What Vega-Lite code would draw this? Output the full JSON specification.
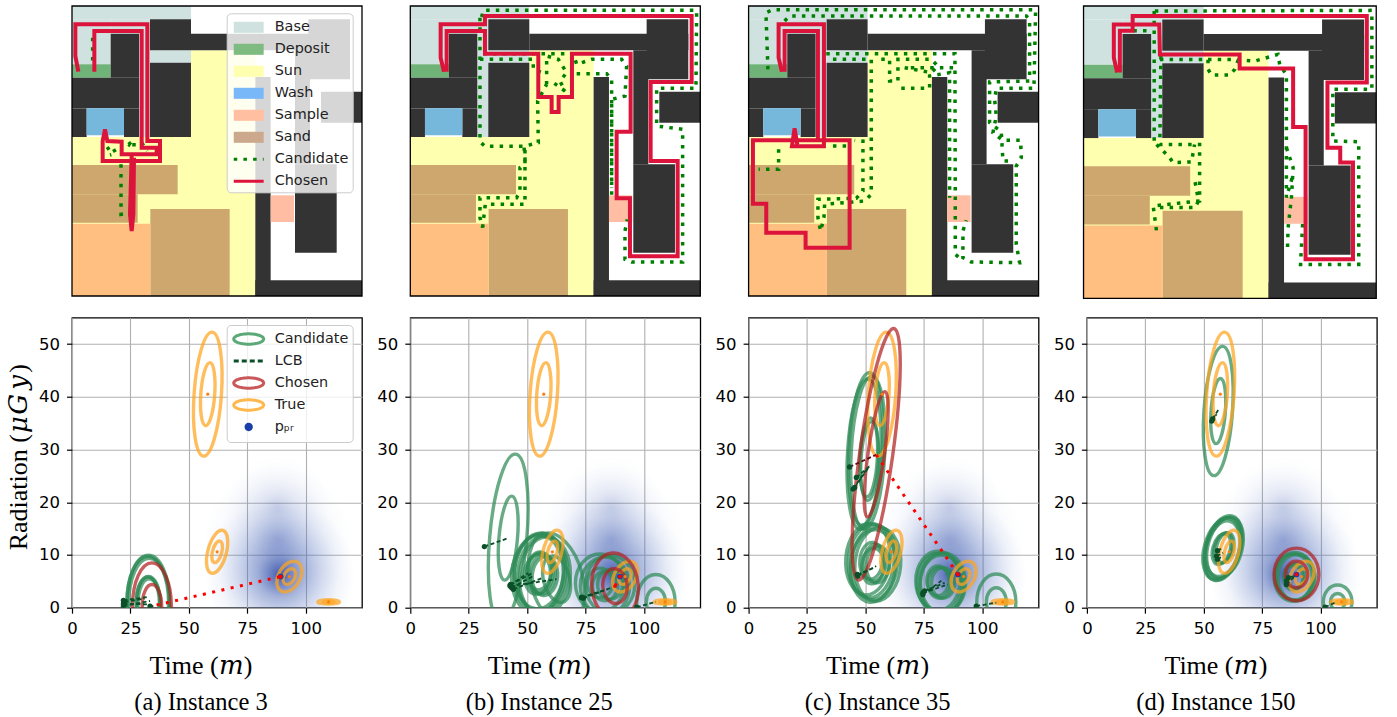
{"$schema":"https://vega.github.io/schema/vega-lite/v6.json","background":"white","padding":{"left":4,"top":2,"right":5,"bottom":5},"bounds":"flush","columns":4,"spacing":{"row":21.7,"column":48.3},
"resolve":{"scale":{"fill":"independent","stroke":"independent","shape":"independent","strokeDash":"independent","size":"independent","color":"independent"}},
"config":{"view":{"stroke":"#000","strokeWidth":1.3},"axis":{"labelFont":"DejaVu Sans","labelFontSize":16.5,"labelColor":"#000","labelFlush":false,"tickColor":"#000","tickSize":5.5,"tickWidth":1.2,"domain":false,"grid":true,"gridColor":"#b0b0b0","gridWidth":1.1,"titleFont":"Liberation Serif, DejaVu Math TeX Gyre, DejaVu Serif","titleFontSize":26,"titleFontWeight":"normal","titleColor":"#000","labelPadding":7,"titlePadding":16},"title":{"font":"Liberation Serif","fontSize":24.5,"fontWeight":"normal","color":"#000","dx":-16},"legend":{"labelFont":"DejaVu Sans","labelFontSize":14.4,"labelColor":"#222","padding":4,"fillColor":"rgba(255,255,255,0.8)","strokeColor":"#cccccc","cornerRadius":4,"symbolSize":289,"symbolStrokeWidth":3,"symbolOffset":8,"labelOffset":16,"rowPadding":-4.5,"gridAlign":"all","symbolOpacity":1}},
"datasets":{
"zones":[
{"z":"Sun","x":31,"x2":581,"y":408,"y2":885},{"z":"Sun","x":388,"x2":581,"y":148,"y2":408},
{"z":"Base","x":31,"x2":388,"y":15,"y2":55},{"z":"Base","x":31,"x2":147,"y":55,"y2":190},{"z":"Base","x":147,"x2":265,"y":55,"y2":98},{"z":"Base","x":232,"x2":265,"y":98,"y2":408},{"z":"Base","x":265,"x2":388,"y":148,"y2":185},
{"z":"Deposit","x":31,"x2":147,"y":190,"y2":230},
{"z":"Wall","x":265,"x2":388,"y":55,"y2":148},{"z":"Wall","x":388,"x2":865,"y":98,"y2":148},{"z":"Wall","x":740,"x2":865,"y":55,"y2":235},{"z":"Wall","x":700,"x2":745,"y":148,"y2":490},{"z":"Wall","x":700,"x2":825,"y":490,"y2":755},{"z":"Wall","x":778,"x2":901,"y":272,"y2":365},{"z":"Wall","x":147,"x2":232,"y":98,"y2":230},{"z":"Wall","x":31,"x2":232,"y":230,"y2":322},{"z":"Wall","x":31,"x2":75,"y":322,"y2":408},{"z":"Wall","x":187,"x2":232,"y":322,"y2":408},{"z":"Wall","x":265,"x2":388,"y":185,"y2":408},{"z":"Wall","x":581,"x2":627,"y":228,"y2":885},{"z":"Wall","x":581,"x2":901,"y":838,"y2":885},
{"z":"Wash","x":75,"x2":187,"y":322,"y2":403},
{"z":"Sand","x":31,"x2":348,"y":492,"y2":580},{"z":"Sand","x":31,"x2":228,"y":580,"y2":665},{"z":"Sand","x":266,"x2":504,"y":624,"y2":885},
{"z":"SandSample","x":31,"x2":266,"y":668,"y2":885},
{"z":"Sample","x":627,"x2":697,"y":583,"y2":663}],
"frame":[{"x":31,"x2":901,"y":15,"y2":885}],
"mapLegend":[{"name":"Base","x":500,"y":500},{"name":"Deposit","x":500,"y":500},{"name":"Sun","x":500,"y":500},{"name":"Wash","x":500,"y":500},{"name":"Sample","x":500,"y":500},{"name":"Sand","x":500,"y":500},{"name":"Candidate","x":500,"y":500},{"name":"Chosen","x":500,"y":500}],
"plotLegend":[{"name":"Candidate","x":60,"y":30},{"name":"LCB","x":60,"y":30},{"name":"Chosen","x":60,"y":30},{"name":"True","x":60,"y":30},{"name":"pₚᵣ","x":60,"y":30}],
"chosenPath":[
{"p":"a","id":"a1","x":50,"y":212},{"p":"a","id":"a1","x":41,"y":165},{"p":"a","id":"a1","x":41,"y":70},{"p":"a","id":"a1","x":257,"y":70},{"p":"a","id":"a1","x":257,"y":420},{"p":"a","id":"a1","x":295,"y":420},{"p":"a","id":"a1","x":295,"y":480},{"p":"a","id":"a1","x":123,"y":480},{"p":"a","id":"a1","x":123,"y":420},{"p":"a","id":"a1","x":130,"y":385},{"p":"a","id":"a1","x":137,"y":420},{"p":"a","id":"a1","x":180,"y":422},{"p":"a","id":"a1","x":180,"y":460},{"p":"a","id":"a1","x":285,"y":460},{"p":"a","id":"a1","x":285,"y":440},{"p":"a","id":"a1","x":240,"y":440},{"p":"a","id":"a1","x":240,"y":90},{"p":"a","id":"a1","x":98,"y":90},{"p":"a","id":"a1","x":98,"y":212},
{"p":"a","id":"a2","x":210,"y":460},{"p":"a","id":"a2","x":205,"y":640},{"p":"a","id":"a2","x":210,"y":690},{"p":"a","id":"a2","x":215,"y":640},{"p":"a","id":"a2","x":217,"y":470},
{"p":"b","id":"b1","x":132,"y":212},{"p":"b","id":"b1","x":122,"y":170},{"p":"b","id":"b1","x":122,"y":70},{"p":"b","id":"b1","x":255,"y":70},{"p":"b","id":"b1","x":255,"y":45},{"p":"b","id":"b1","x":875,"y":45},{"p":"b","id":"b1","x":875,"y":243},{"p":"b","id":"b1","x":752,"y":243},{"p":"b","id":"b1","x":752,"y":480},{"p":"b","id":"b1","x":833,"y":480},{"p":"b","id":"b1","x":833,"y":766},{"p":"b","id":"b1","x":690,"y":766},{"p":"b","id":"b1","x":690,"y":592},{"p":"b","id":"b1","x":650,"y":592},{"p":"b","id":"b1","x":650,"y":392},{"p":"b","id":"b1","x":692,"y":392},{"p":"b","id":"b1","x":692,"y":158},{"p":"b","id":"b1","x":516,"y":158},{"p":"b","id":"b1","x":516,"y":288},{"p":"b","id":"b1","x":476,"y":288},{"p":"b","id":"b1","x":476,"y":333},{"p":"b","id":"b1","x":455,"y":333},{"p":"b","id":"b1","x":455,"y":288},{"p":"b","id":"b1","x":415,"y":288},{"p":"b","id":"b1","x":415,"y":158},{"p":"b","id":"b1","x":255,"y":158},{"p":"b","id":"b1","x":255,"y":90},{"p":"b","id":"b1","x":140,"y":90},{"p":"b","id":"b1","x":140,"y":212},
{"p":"c","id":"c1","x":131,"y":212},{"p":"c","id":"c1","x":121,"y":170},{"p":"c","id":"c1","x":121,"y":70},{"p":"c","id":"c1","x":257,"y":70},{"p":"c","id":"c1","x":257,"y":436},{"p":"c","id":"c1","x":161,"y":436},{"p":"c","id":"c1","x":169,"y":382},{"p":"c","id":"c1","x":177,"y":430},
{"p":"c","id":"c2","x":139,"y":212},{"p":"c","id":"c2","x":139,"y":90},{"p":"c","id":"c2","x":239,"y":90},{"p":"c","id":"c2","x":239,"y":418},{"p":"c","id":"c2","x":44,"y":418},{"p":"c","id":"c2","x":44,"y":608},{"p":"c","id":"c2","x":84,"y":608},{"p":"c","id":"c2","x":84,"y":695},{"p":"c","id":"c2","x":202,"y":695},{"p":"c","id":"c2","x":202,"y":740},{"p":"c","id":"c2","x":334,"y":740},{"p":"c","id":"c2","x":334,"y":418},{"p":"c","id":"c2","x":239,"y":418},
{"p":"d","id":"d1","x":131,"y":213},{"p":"d","id":"d1","x":121,"y":169},{"p":"d","id":"d1","x":121,"y":70},{"p":"d","id":"d1","x":256,"y":70},{"p":"d","id":"d1","x":258,"y":159},{"p":"d","id":"d1","x":495,"y":159},{"p":"d","id":"d1","x":495,"y":201},{"p":"d","id":"d1","x":654,"y":201},{"p":"d","id":"d1","x":654,"y":375},{"p":"d","id":"d1","x":691,"y":375},{"p":"d","id":"d1","x":691,"y":769},{"p":"d","id":"d1","x":832,"y":769},{"p":"d","id":"d1","x":832,"y":481},{"p":"d","id":"d1","x":794,"y":481},{"p":"d","id":"d1","x":794,"y":437},{"p":"d","id":"d1","x":756,"y":437},{"p":"d","id":"d1","x":756,"y":243},{"p":"d","id":"d1","x":873,"y":243},{"p":"d","id":"d1","x":873,"y":45},{"p":"d","id":"d1","x":177,"y":45},{"p":"d","id":"d1","x":177,"y":89},{"p":"d","id":"d1","x":139,"y":89},{"p":"d","id":"d1","x":139,"y":213}],
"candPath":[
{"p":"a","id":"1","x":178,"y":490},{"p":"a","id":"1","x":178,"y":640},{"p":"a","id":"1","x":210,"y":635},
{"p":"a","id":"2","x":135,"y":445},{"p":"a","id":"2","x":150,"y":435},{"p":"a","id":"2","x":163,"y":457},{"p":"a","id":"2","x":145,"y":462},
{"p":"a","id":"3","x":200,"y":430},{"p":"a","id":"3","x":217,"y":418},{"p":"a","id":"3","x":217,"y":442},{"p":"a","id":"3","x":200,"y":430},
{"p":"a","id":"4","x":240,"y":425},{"p":"a","id":"4","x":257,"y":450},
{"p":"a","id":"5","x":93,"y":110},{"p":"a","id":"5","x":93,"y":180},
{"p":"b","id":"1","x":245,"y":48},{"p":"b","id":"1","x":250,"y":28},{"p":"b","id":"1","x":890,"y":28},{"p":"b","id":"1","x":888,"y":262},{"p":"b","id":"1","x":770,"y":262},{"p":"b","id":"1","x":770,"y":375},{"p":"b","id":"1","x":848,"y":385},{"p":"b","id":"1","x":848,"y":783},{"p":"b","id":"1","x":695,"y":783},{"p":"b","id":"1","x":675,"y":775},{"p":"b","id":"1","x":675,"y":690},{"p":"b","id":"1","x":682,"y":655},
{"p":"b","id":"2","x":240,"y":50},{"p":"b","id":"2","x":240,"y":422},{"p":"b","id":"2","x":255,"y":436},{"p":"b","id":"2","x":375,"y":436},{"p":"b","id":"2","x":375,"y":490},{"p":"b","id":"2","x":360,"y":500},{"p":"b","id":"2","x":360,"y":570},{"p":"b","id":"2","x":350,"y":590},{"p":"b","id":"2","x":240,"y":590},{"p":"b","id":"2","x":240,"y":650},{"p":"b","id":"2","x":248,"y":680},
{"p":"b","id":"3","x":248,"y":680},{"p":"b","id":"3","x":256,"y":610},{"p":"b","id":"3","x":375,"y":610},{"p":"b","id":"3","x":375,"y":470},{"p":"b","id":"3","x":372,"y":436},{"p":"b","id":"3","x":415,"y":425},{"p":"b","id":"3","x":413,"y":300},{"p":"b","id":"3","x":440,"y":250},
{"p":"b","id":"4","x":240,"y":175},{"p":"b","id":"4","x":400,"y":175},{"p":"b","id":"4","x":400,"y":205},{"p":"b","id":"4","x":440,"y":220},{"p":"b","id":"4","x":440,"y":165},{"p":"b","id":"4","x":475,"y":175},{"p":"b","id":"4","x":500,"y":215},{"p":"b","id":"4","x":480,"y":240},{"p":"b","id":"4","x":495,"y":270},{"p":"b","id":"4","x":460,"y":245},{"p":"b","id":"4","x":425,"y":245},
{"p":"b","id":"5","x":250,"y":158},{"p":"b","id":"5","x":520,"y":158},{"p":"b","id":"5","x":530,"y":190},{"p":"b","id":"5","x":575,"y":175},{"p":"b","id":"5","x":665,"y":175},{"p":"b","id":"5","x":680,"y":195},{"p":"b","id":"5","x":675,"y":285},{"p":"b","id":"5","x":635,"y":295},{"p":"b","id":"5","x":635,"y":590},
{"p":"b","id":"6","x":530,"y":218},{"p":"b","id":"6","x":620,"y":218},{"p":"b","id":"6","x":635,"y":235},{"p":"b","id":"6","x":635,"y":560},
{"p":"c","id":"1","x":89,"y":205},{"p":"c","id":"1","x":83,"y":35},{"p":"c","id":"1","x":104,"y":26},{"p":"c","id":"1","x":892,"y":26},{"p":"c","id":"1","x":887,"y":262},{"p":"c","id":"1","x":774,"y":262},{"p":"c","id":"1","x":769,"y":295},{"p":"c","id":"1","x":774,"y":345},{"p":"c","id":"1","x":764,"y":395},{"p":"c","id":"1","x":794,"y":418},{"p":"c","id":"1","x":847,"y":418},{"p":"c","id":"1","x":849,"y":470},{"p":"c","id":"1","x":834,"y":495},{"p":"c","id":"1","x":834,"y":730},{"p":"c","id":"1","x":844,"y":785},{"p":"c","id":"1","x":699,"y":783},{"p":"c","id":"1","x":674,"y":770},{"p":"c","id":"1","x":674,"y":690},{"p":"c","id":"1","x":684,"y":658},
{"p":"c","id":"2","x":139,"y":60},{"p":"c","id":"2","x":154,"y":45},{"p":"c","id":"2","x":864,"y":45},{"p":"c","id":"2","x":874,"y":55},{"p":"c","id":"2","x":874,"y":240},{"p":"c","id":"2","x":754,"y":243},{"p":"c","id":"2","x":754,"y":365},{"p":"c","id":"2","x":789,"y":392},{"p":"c","id":"2","x":794,"y":480},{"p":"c","id":"2","x":819,"y":480},
{"p":"c","id":"3","x":264,"y":158},{"p":"c","id":"3","x":650,"y":158},{"p":"c","id":"3","x":651,"y":590},{"p":"c","id":"3","x":651,"y":760},{"p":"c","id":"3","x":669,"y":775},
{"p":"c","id":"4","x":284,"y":175},{"p":"c","id":"4","x":399,"y":175},{"p":"c","id":"4","x":399,"y":580},{"p":"c","id":"4","x":379,"y":600},{"p":"c","id":"4","x":259,"y":610},{"p":"c","id":"4","x":257,"y":650},{"p":"c","id":"4","x":247,"y":690},{"p":"c","id":"4","x":239,"y":650},{"p":"c","id":"4","x":239,"y":595},{"p":"c","id":"4","x":354,"y":592},{"p":"c","id":"4","x":374,"y":570},{"p":"c","id":"4","x":374,"y":420},{"p":"c","id":"4","x":349,"y":418},
{"p":"c","id":"5","x":284,"y":435},{"p":"c","id":"5","x":334,"y":435},
{"p":"c","id":"6","x":121,"y":445},{"p":"c","id":"6","x":121,"y":505},{"p":"c","id":"6","x":61,"y":505},
{"p":"c","id":"7","x":429,"y":175},{"p":"c","id":"7","x":454,"y":175},{"p":"c","id":"7","x":454,"y":240},{"p":"c","id":"7","x":479,"y":240},{"p":"c","id":"7","x":479,"y":175},{"p":"c","id":"7","x":579,"y":175},{"p":"c","id":"7","x":599,"y":195},{"p":"c","id":"7","x":579,"y":215},{"p":"c","id":"7","x":499,"y":200},{"p":"c","id":"7","x":649,"y":200},
{"p":"c","id":"8","x":489,"y":262},{"p":"c","id":"8","x":574,"y":262},{"p":"c","id":"8","x":574,"y":225},{"p":"c","id":"8","x":634,"y":215},{"p":"c","id":"8","x":634,"y":590},
{"p":"d","id":"1","x":243,"y":30},{"p":"d","id":"1","x":888,"y":28},{"p":"d","id":"1","x":888,"y":263},{"p":"d","id":"1","x":772,"y":263},{"p":"d","id":"1","x":772,"y":417},{"p":"d","id":"1","x":849,"y":419},{"p":"d","id":"1","x":849,"y":784},{"p":"d","id":"1","x":676,"y":784},{"p":"d","id":"1","x":678,"y":744},{"p":"d","id":"1","x":683,"y":650},
{"p":"d","id":"2","x":241,"y":30},{"p":"d","id":"2","x":241,"y":417},{"p":"d","id":"2","x":258,"y":427},{"p":"d","id":"2","x":376,"y":427},{"p":"d","id":"2","x":376,"y":595},{"p":"d","id":"2","x":238,"y":610},{"p":"d","id":"2","x":248,"y":685},
{"p":"d","id":"3","x":258,"y":174},{"p":"d","id":"3","x":401,"y":174},{"p":"d","id":"3","x":401,"y":203},{"p":"d","id":"3","x":411,"y":220},{"p":"d","id":"3","x":466,"y":220},{"p":"d","id":"3","x":481,"y":203},{"p":"d","id":"3","x":495,"y":164},
{"p":"d","id":"4","x":261,"y":164},{"p":"d","id":"4","x":258,"y":407},
{"p":"d","id":"5","x":258,"y":615},{"p":"d","id":"5","x":362,"y":615},{"p":"d","id":"5","x":373,"y":595},{"p":"d","id":"5","x":362,"y":536},
{"p":"d","id":"6","x":401,"y":174},{"p":"d","id":"6","x":471,"y":174},{"p":"d","id":"6","x":540,"y":179},{"p":"d","id":"6","x":609,"y":159},{"p":"d","id":"6","x":614,"y":189},{"p":"d","id":"6","x":634,"y":220},{"p":"d","id":"6","x":634,"y":585},{"p":"d","id":"6","x":654,"y":516},
{"p":"d","id":"7","x":634,"y":437},{"p":"d","id":"7","x":654,"y":496},{"p":"d","id":"7","x":649,"y":585},{"p":"d","id":"7","x":639,"y":675},{"p":"d","id":"7","x":637,"y":744},
{"p":"d","id":"8","x":248,"y":427},{"p":"d","id":"8","x":287,"y":466},{"p":"d","id":"8","x":297,"y":481},{"p":"d","id":"8","x":352,"y":479},{"p":"d","id":"8","x":361,"y":427},
{"p":"d","id":"9","x":179,"y":89},{"p":"d","id":"9","x":228,"y":89}],
"prior":[
{"p":"a","x":89,"y":6.3,"r":14.2,"w":1},{"p":"a","x":88,"y":13,"r":14,"w":0.35},{"p":"a","x":88,"y":19,"r":10,"w":0.2},
{"p":"b","x":87,"y":6.3,"r":14.2,"w":1},{"p":"b","x":86,"y":13,"r":14,"w":0.35},{"p":"b","x":86,"y":19,"r":10,"w":0.2},
{"p":"c","x":87,"y":6.3,"r":14.2,"w":1},{"p":"c","x":86,"y":13,"r":14,"w":0.35},{"p":"c","x":86,"y":19,"r":10,"w":0.2},
{"p":"d","x":85,"y":6.3,"r":14.2,"w":1},{"p":"d","x":84,"y":13,"r":14,"w":0.35},{"p":"d","x":84,"y":19,"r":10,"w":0.2}],
"ellipses":[
{"p":"a","k":"Candidate","x":32.7,"y":0.95,"r":9,"a":0.45,"ang":0},{"p":"a","k":"Candidate","x":32.4,"y":0.95,"r":8.8,"a":0.45,"ang":0},{"p":"a","k":"Candidate","x":33.0,"y":0.8,"r":8.6,"a":0.45,"ang":0},{"p":"a","k":"Candidate","x":32.7,"y":0.95,"r":5,"a":0.45,"ang":0},{"p":"a","k":"Candidate","x":32.4,"y":0.95,"r":4.9,"a":0.45,"ang":0},{"p":"a","k":"Candidate","x":33.0,"y":0.8,"r":4.7,"a":0.45,"ang":0},
{"p":"a","k":"True","x":58.1,"y":40.5,"r":11.8,"a":0.22,"ang":4},{"p":"a","k":"True","x":58.1,"y":40.5,"r":6,"a":0.22,"ang":4},{"p":"a","k":"True","x":62.1,"y":10.6,"r":4.2,"a":0.42,"ang":15},{"p":"a","k":"True","x":62.1,"y":10.6,"r":2.1,"a":0.42,"ang":15},{"p":"a","k":"True","x":93,"y":5.9,"r":3.15,"a":0.65,"ang":30},{"p":"a","k":"True","x":93,"y":5.9,"r":1.6,"a":0.65,"ang":30},{"p":"a","k":"True","x":109.8,"y":1.1,"r":2.05,"a":0.2,"ang":90},{"p":"a","k":"True","x":109.8,"y":1.1,"r":1,"a":0.2,"ang":90},
{"p":"a","k":"Chosen","x":34.2,"y":0.3,"r":8.2,"a":0.45,"ang":0},{"p":"a","k":"Chosen","x":34.2,"y":0.3,"r":4.1,"a":0.45,"ang":0},
{"p":"b","k":"Candidate","x":41.9,"y":13.2,"r":16,"a":0.22,"ang":5},{"p":"b","k":"Candidate","x":41.9,"y":13.2,"r":8,"a":0.22,"ang":5},
{"p":"b","k":"Candidate","x":54.4,"y":6.3,"r":7.5,"a":0.65,"ang":5},{"p":"b","k":"Candidate","x":55.5,"y":6.6,"r":7.5,"a":0.65,"ang":5},{"p":"b","k":"Candidate","x":56.6,"y":6.3,"r":7.3,"a":0.65,"ang":5},{"p":"b","k":"Candidate","x":57.6,"y":6,"r":7.4,"a":0.65,"ang":5},{"p":"b","k":"Candidate","x":55.2,"y":7,"r":7.2,"a":0.65,"ang":5},
{"p":"b","k":"Candidate","x":54.4,"y":6.3,"r":3.8,"a":0.65,"ang":5},{"p":"b","k":"Candidate","x":55.5,"y":6.6,"r":3.8,"a":0.65,"ang":5},{"p":"b","k":"Candidate","x":56.6,"y":6.3,"r":3.7,"a":0.65,"ang":5},{"p":"b","k":"Candidate","x":57.6,"y":6,"r":3.7,"a":0.65,"ang":5},{"p":"b","k":"Candidate","x":55.2,"y":7,"r":3.6,"a":0.65,"ang":5},
{"p":"b","k":"Candidate","x":62.6,"y":5.4,"r":9,"a":0.55,"ang":-15},{"p":"b","k":"Candidate","x":62.6,"y":5.4,"r":4.5,"a":0.55,"ang":-15},
{"p":"b","k":"Candidate","x":81.2,"y":4.7,"r":5.5,"a":0.85,"ang":0},{"p":"b","k":"Candidate","x":83.3,"y":4.1,"r":5.5,"a":0.85,"ang":0},{"p":"b","k":"Candidate","x":85.5,"y":4.4,"r":5.5,"a":0.85,"ang":0},{"p":"b","k":"Candidate","x":81.2,"y":4.7,"r":2.8,"a":0.85,"ang":0},{"p":"b","k":"Candidate","x":83.3,"y":4.1,"r":2.8,"a":0.85,"ang":0},{"p":"b","k":"Candidate","x":85.5,"y":4.4,"r":2.8,"a":0.85,"ang":0},
{"p":"b","k":"Candidate","x":105.1,"y":1.1,"r":5.2,"a":0.7,"ang":0},{"p":"b","k":"Candidate","x":105.1,"y":1.1,"r":2.6,"a":0.7,"ang":0},
{"p":"b","k":"True","x":57.1,"y":40.5,"r":11.8,"a":0.22,"ang":4},{"p":"b","k":"True","x":57.1,"y":40.5,"r":6,"a":0.22,"ang":4},{"p":"b","k":"True","x":60.8,"y":10.6,"r":4.2,"a":0.42,"ang":15},{"p":"b","k":"True","x":60.8,"y":10.6,"r":2.1,"a":0.42,"ang":15},{"p":"b","k":"True","x":91.9,"y":5.9,"r":3.15,"a":0.65,"ang":30},{"p":"b","k":"True","x":91.9,"y":5.9,"r":1.6,"a":0.65,"ang":30},{"p":"b","k":"True","x":109,"y":1.1,"r":2.05,"a":0.2,"ang":90},{"p":"b","k":"True","x":109,"y":1.1,"r":1,"a":0.2,"ang":90},
{"p":"b","k":"Chosen","x":87.6,"y":4.1,"r":6.3,"a":0.7,"ang":-5},{"p":"b","k":"Chosen","x":87.6,"y":4.1,"r":3.3,"a":0.7,"ang":-5},
{"p":"c","k":"Candidate","x":50.1,"y":30.1,"r":14.5,"a":0.22,"ang":3},{"p":"c","k":"Candidate","x":51.1,"y":29.4,"r":14.5,"a":0.22,"ang":3},{"p":"c","k":"Candidate","x":49.4,"y":29.1,"r":14.3,"a":0.22,"ang":3},{"p":"c","k":"Candidate","x":51.8,"y":27.8,"r":7.5,"a":0.22,"ang":3},{"p":"c","k":"Candidate","x":51.4,"y":28.5,"r":7.5,"a":0.22,"ang":3},
{"p":"c","k":"Candidate","x":53.9,"y":8.5,"r":7,"a":0.62,"ang":5},{"p":"c","k":"Candidate","x":52.5,"y":8.9,"r":7,"a":0.62,"ang":5},{"p":"c","k":"Candidate","x":55.3,"y":8.2,"r":7,"a":0.62,"ang":5},{"p":"c","k":"Candidate","x":51.1,"y":9.2,"r":6.8,"a":0.62,"ang":5},{"p":"c","k":"Candidate","x":53.2,"y":7.9,"r":6.9,"a":0.62,"ang":5},
{"p":"c","k":"Candidate","x":53.9,"y":8.5,"r":3.5,"a":0.62,"ang":5},{"p":"c","k":"Candidate","x":52.5,"y":8.9,"r":3.5,"a":0.62,"ang":5},{"p":"c","k":"Candidate","x":55.3,"y":8.2,"r":3.5,"a":0.62,"ang":5},{"p":"c","k":"Candidate","x":53.2,"y":7.9,"r":3.4,"a":0.62,"ang":5},
{"p":"c","k":"Candidate","x":81.7,"y":4.7,"r":5.7,"a":0.75,"ang":0},{"p":"c","k":"Candidate","x":83.2,"y":4.7,"r":5.7,"a":0.75,"ang":0},{"p":"c","k":"Candidate","x":81,"y":5.1,"r":5.6,"a":0.75,"ang":0},{"p":"c","k":"Candidate","x":82.7,"y":4.4,"r":5.6,"a":0.75,"ang":0},{"p":"c","k":"Candidate","x":81.7,"y":4.7,"r":2.9,"a":0.75,"ang":0},{"p":"c","k":"Candidate","x":83.2,"y":4.7,"r":2.9,"a":0.75,"ang":0},{"p":"c","k":"Candidate","x":81,"y":5.1,"r":2.8,"a":0.75,"ang":0},
{"p":"c","k":"Candidate","x":106,"y":1.1,"r":5.3,"a":0.7,"ang":0},{"p":"c","k":"Candidate","x":106,"y":1.1,"r":2.7,"a":0.7,"ang":0},
{"p":"c","k":"True","x":57.1,"y":40.5,"r":11.8,"a":0.22,"ang":4},{"p":"c","k":"True","x":57.1,"y":40.5,"r":6,"a":0.22,"ang":4},{"p":"c","k":"True","x":61.1,"y":10.6,"r":4.2,"a":0.42,"ang":15},{"p":"c","k":"True","x":61.1,"y":10.6,"r":2.1,"a":0.42,"ang":15},{"p":"c","k":"True","x":92,"y":5.9,"r":3.15,"a":0.65,"ang":30},{"p":"c","k":"True","x":92,"y":5.9,"r":1.6,"a":0.65,"ang":30},{"p":"c","k":"True","x":108.8,"y":1.1,"r":2.05,"a":0.2,"ang":90},{"p":"c","k":"True","x":108.8,"y":1.1,"r":1,"a":0.2,"ang":90},
{"p":"c","k":"Chosen","x":54.6,"y":29.1,"r":24.1,"a":0.13,"ang":8},{"p":"c","k":"Chosen","x":54.6,"y":29.1,"r":12,"a":0.13,"ang":8},
{"p":"d","k":"Candidate","x":56.2,"y":37.3,"r":12.3,"a":0.22,"ang":4},{"p":"d","k":"Candidate","x":56.2,"y":37.3,"r":6.2,"a":0.22,"ang":4},
{"p":"d","k":"Candidate","x":58.3,"y":11.3,"r":6,"a":0.55,"ang":15},{"p":"d","k":"Candidate","x":57.6,"y":11.1,"r":6,"a":0.55,"ang":15},{"p":"d","k":"Candidate","x":59.1,"y":11.4,"r":5.9,"a":0.55,"ang":15},{"p":"d","k":"Candidate","x":58.6,"y":11.7,"r":5.9,"a":0.55,"ang":15},{"p":"d","k":"Candidate","x":57.9,"y":10.8,"r":5.8,"a":0.55,"ang":15},{"p":"d","k":"Candidate","x":58.3,"y":11.3,"r":3,"a":0.55,"ang":15},{"p":"d","k":"Candidate","x":57.6,"y":11.1,"r":3,"a":0.55,"ang":15},{"p":"d","k":"Candidate","x":59.1,"y":11.4,"r":2.9,"a":0.55,"ang":15},
{"p":"d","k":"Candidate","x":89,"y":6,"r":4.5,"a":0.8,"ang":0},{"p":"d","k":"Candidate","x":88.3,"y":5.7,"r":4.5,"a":0.8,"ang":0},{"p":"d","k":"Candidate","x":89.7,"y":5.7,"r":4.4,"a":0.8,"ang":0},{"p":"d","k":"Candidate","x":89,"y":6,"r":2.3,"a":0.8,"ang":0},{"p":"d","k":"Candidate","x":88.3,"y":5.7,"r":2.3,"a":0.8,"ang":0},
{"p":"d","k":"Candidate","x":107.3,"y":1.1,"r":3.2,"a":0.85,"ang":0},{"p":"d","k":"Candidate","x":107.3,"y":1.1,"r":1.6,"a":0.85,"ang":0},
{"p":"d","k":"True","x":57.1,"y":40.5,"r":11.8,"a":0.22,"ang":4},{"p":"d","k":"True","x":57.1,"y":40.5,"r":6,"a":0.22,"ang":4},{"p":"d","k":"True","x":60.9,"y":10.6,"r":4.2,"a":0.42,"ang":15},{"p":"d","k":"True","x":60.9,"y":10.6,"r":2.1,"a":0.42,"ang":15},{"p":"d","k":"True","x":91.9,"y":5.9,"r":3.15,"a":0.65,"ang":30},{"p":"d","k":"True","x":91.9,"y":5.9,"r":1.6,"a":0.65,"ang":30},{"p":"d","k":"True","x":109,"y":1.1,"r":2.05,"a":0.2,"ang":90},{"p":"d","k":"True","x":109,"y":1.1,"r":1,"a":0.2,"ang":90},
{"p":"d","k":"Chosen","x":89.7,"y":6.3,"r":5,"a":0.85,"ang":0},{"p":"d","k":"Chosen","x":89.7,"y":6.3,"r":2.5,"a":0.85,"ang":0}],
"lcb":[
{"p":"a","id":"1","k":"c","s":1,"x":22,"y":1.4},{"p":"a","id":"1","k":"c","s":0,"x":32.2,"y":2},{"p":"a","id":"2","k":"c","s":1,"x":22,"y":0.76},{"p":"a","id":"2","k":"c","s":0,"x":32.7,"y":0.63},{"p":"a","id":"3","k":"c","s":1,"x":22,"y":0.3},{"p":"a","id":"3","k":"c","s":0,"x":33.4,"y":1.27},{"p":"a","id":"4","k":"c","s":1,"x":22.5,"y":1.1},{"p":"a","id":"4","k":"c","s":0,"x":31,"y":1.7},{"p":"a","id":"5","k":"m","s":1,"x":33.4,"y":0.3},{"p":"a","id":"5","k":"m","s":0,"x":34.8,"y":0.3},
{"p":"b","id":"1","k":"c","s":1,"x":31.7,"y":11.6},{"p":"b","id":"1","k":"c","s":0,"x":41.9,"y":13.2},{"p":"b","id":"2","k":"c","s":1,"x":42.7,"y":4.1},{"p":"b","id":"2","k":"c","s":0,"x":62.6,"y":5.4},{"p":"b","id":"3","k":"c","s":1,"x":43.4,"y":3.8},{"p":"b","id":"3","k":"c","s":0,"x":52.6,"y":6},{"p":"b","id":"4","k":"c","s":1,"x":42.7,"y":4.3},{"p":"b","id":"4","k":"c","s":0,"x":50.5,"y":6.6},{"p":"b","id":"5","k":"c","s":1,"x":44.1,"y":3.5},{"p":"b","id":"5","k":"c","s":0,"x":56.9,"y":5.7},{"p":"b","id":"6","k":"c","s":1,"x":42.9,"y":4.4},{"p":"b","id":"6","k":"c","s":0,"x":52.6,"y":6.6},{"p":"b","id":"7","k":"c","s":1,"x":73.3,"y":1.9},{"p":"b","id":"7","k":"c","s":0,"x":86.2,"y":3.8},{"p":"b","id":"8","k":"c","s":1,"x":74,"y":1.8},{"p":"b","id":"8","k":"c","s":0,"x":82.6,"y":3.2},{"p":"b","id":"9","k":"c","s":1,"x":73.3,"y":2},{"p":"b","id":"9","k":"c","s":0,"x":84.7,"y":3.5},{"p":"b","id":"10","k":"c","s":1,"x":96.9,"y":0.1},{"p":"b","id":"10","k":"c","s":0,"x":105.1,"y":1.1},
{"p":"c","id":"1","k":"m","s":1,"x":43.2,"y":26.7},{"p":"c","id":"1","k":"m","s":0,"x":54.6,"y":29},{"p":"c","id":"2","k":"c","s":1,"x":45.4,"y":22.8},{"p":"c","id":"2","k":"c","s":0,"x":51.8,"y":26.9},{"p":"c","id":"3","k":"c","s":1,"x":44.7,"y":22.5},{"p":"c","id":"3","k":"c","s":0,"x":51.1,"y":26.6},{"p":"c","id":"4","k":"c","s":1,"x":46.1,"y":24.7},{"p":"c","id":"4","k":"c","s":0,"x":52.2,"y":27},{"p":"c","id":"5","k":"c","s":1,"x":46.8,"y":6},{"p":"c","id":"5","k":"c","s":0,"x":54.6,"y":7.9},{"p":"c","id":"6","k":"c","s":1,"x":46.5,"y":6.3},{"p":"c","id":"6","k":"c","s":0,"x":53.9,"y":7.6},{"p":"c","id":"7","k":"c","s":1,"x":74.6,"y":2.8},{"p":"c","id":"7","k":"c","s":0,"x":85.3,"y":4.4},{"p":"c","id":"8","k":"c","s":1,"x":74.6,"y":2.5},{"p":"c","id":"8","k":"c","s":0,"x":82.5,"y":5.1},{"p":"c","id":"9","k":"c","s":1,"x":75.3,"y":3.2},{"p":"c","id":"9","k":"c","s":0,"x":83.9,"y":4.7},{"p":"c","id":"10","k":"c","s":1,"x":97.4,"y":0.3},{"p":"c","id":"10","k":"c","s":0,"x":106,"y":0.95},
{"p":"d","id":"1","k":"c","s":1,"x":53.8,"y":35.8},{"p":"d","id":"1","k":"c","s":0,"x":56.2,"y":37.5},{"p":"d","id":"2","k":"c","s":1,"x":53.4,"y":35.4},{"p":"d","id":"2","k":"c","s":0,"x":55.5,"y":36.7},{"p":"d","id":"3","k":"c","s":1,"x":55.9,"y":10.8},{"p":"d","id":"3","k":"c","s":0,"x":58.3,"y":11.4},{"p":"d","id":"4","k":"c","s":1,"x":55.9,"y":9.2},{"p":"d","id":"4","k":"c","s":0,"x":58.3,"y":9.8},{"p":"d","id":"5","k":"c","s":1,"x":55.5,"y":9.8},{"p":"d","id":"5","k":"c","s":0,"x":58.3,"y":10.4},{"p":"d","id":"6","k":"c","s":1,"x":85.4,"y":4.4},{"p":"d","id":"6","k":"c","s":0,"x":89,"y":6},{"p":"d","id":"7","k":"c","s":1,"x":86.2,"y":5.7},{"p":"d","id":"7","k":"c","s":0,"x":89,"y":6},{"p":"d","id":"8","k":"c","s":1,"x":85.4,"y":5.1},{"p":"d","id":"8","k":"c","s":0,"x":89.7,"y":6.3},{"p":"d","id":"9","k":"c","s":1,"x":101.9,"y":0.1},{"p":"d","id":"9","k":"c","s":0,"x":106.8,"y":1.1}],
"link":[{"p":"a","x":36.2,"y":0.5},{"p":"a","x":89.3,"y":5.9},{"p":"b","x":87.6,"y":4.1},{"p":"b","x":89.7,"y":5.9},{"p":"c","x":54.6,"y":29},{"p":"c","x":89.6,"y":6.3}],
"trueMean":[{"p":"a","x":58.1,"y":40.5},{"p":"a","x":62.1,"y":10.6},{"p":"a","x":93,"y":5.9},{"p":"a","x":109.8,"y":1.1},{"p":"b","x":57.1,"y":40.5},{"p":"b","x":60.8,"y":10.6},{"p":"b","x":91.9,"y":5.9},{"p":"b","x":109,"y":1.1},{"p":"c","x":57.1,"y":40.5},{"p":"c","x":61.1,"y":10.6},{"p":"c","x":92,"y":5.9},{"p":"c","x":108.8,"y":1.1},{"p":"d","x":57.1,"y":40.5},{"p":"d","x":60.9,"y":10.6},{"p":"d","x":91.9,"y":5.9},{"p":"d","x":109,"y":1.1}],
"pr":[{"p":"a","x":89.3,"y":5.9},{"p":"b","x":89.7,"y":5.9},{"p":"c","x":89.6,"y":6.3},{"p":"d","x":89.7,"y":6.3}],
"chosenMean":[{"p":"a","x":89.3,"y":5.9},{"p":"b","x":87.6,"y":4.1},{"p":"b","x":89.7,"y":5.9},{"p":"c","x":89.6,"y":6.3},{"p":"d","x":89.7,"y":6.3}]
},
"concat":[
{"width":290,"height":290,"view":{"stroke":null},"resolve":{"scale":{"fill":"independent","stroke":"independent","shape":"independent","strokeDash":"independent"}},"encoding":{"x":{"field":"x","type":"quantitative","scale":{"domain":[31,901],"nice":false,"zero":false},"axis":null},"y":{"field":"y","type":"quantitative","scale":{"domain":[885,15],"nice":false,"zero":false},"axis":null}},
"layer":[
{"data":{"name":"zones"},"mark":{"type":"rect"},"encoding":{"x2":{"field":"x2"},"y2":{"field":"y2"},"fill":{"field":"z","type":"nominal","legend":null,"scale":{"domain":["Sun","Base","Deposit","Wall","Wash","Sand","SandSample","Sample"],"range":["#ffffb0","#cfe2e0","#6fb378","#333333","#76b8dc","#cda76e","#ffbf80","#ffbea4"]}}}},
{"data":{"name":"candPath"},"transform":[{"filter":"datum.p=='a'"},{"window":[{"op":"row_number","as":"i"}]}],"mark":{"type":"line","color":"#008000","strokeWidth":3.5,"strokeDash":[3.5,6.2]},"encoding":{"detail":{"field":"id"},"order":{"field":"i"}}},
{"data":{"name":"chosenPath"},"transform":[{"filter":"datum.p=='a'"},{"window":[{"op":"row_number","as":"i"}]}],"mark":{"type":"line","color":"#dc143c","strokeWidth":4},"encoding":{"detail":{"field":"id"},"order":{"field":"i"}}},
{"data":{"name":"frame"},"mark":{"type":"rect","fill":null,"stroke":"#000","strokeWidth":1.3},"encoding":{"x2":{"field":"x2"},"y2":{"field":"y2"}}},
{"data":{"name":"mapLegend"},"mark":{"type":"point","filled":true,"opacity":0,"size":289,"strokeWidth":3},"encoding":{
"shape":{"field":"name","type":"nominal","scale":{"domain":["Base","Deposit","Sun","Wash","Sample","Sand","Candidate","Chosen"],"range":["M-1.76,-.65H1.76V.65H-1.76Z","M-1.76,-.65H1.76V.65H-1.76Z","M-1.76,-.65H1.76V.65H-1.76Z","M-1.76,-.65H1.76V.65H-1.76Z","M-1.76,-.65H1.76V.65H-1.76Z","M-1.76,-.65H1.76V.65H-1.76Z","M-1.76,0H1.76","M-1.76,0H1.76"]},"legend":{"title":null,"orient":"none","legendX":154.7,"legendY":7.3}},
"fill":{"field":"name","type":"nominal","scale":{"domain":["Base","Deposit","Sun","Wash","Sample","Sand","Candidate","Chosen"],"range":["#cfe2e0","#7dbb80","#ffffb0","#78b8f8","#ffbfa0","#cca88c","transparent","transparent"]},"legend":{"title":null,"orient":"none","legendX":154.7,"legendY":7.3}},
"stroke":{"field":"name","type":"nominal","scale":{"domain":["Base","Deposit","Sun","Wash","Sample","Sand","Candidate","Chosen"],"range":["transparent","transparent","transparent","transparent","transparent","transparent","#008000","#dc143c"]},"legend":{"title":null,"orient":"none","legendX":154.7,"legendY":7.3}},
"strokeDash":{"field":"name","type":"nominal","scale":{"domain":["Base","Deposit","Sun","Wash","Sample","Sand","Candidate","Chosen"],"range":[[1,0],[1,0],[1,0],[1,0],[1,0],[1,0],[3.5,6.2],[1,0]]},"legend":{"title":null,"orient":"none","legendX":154.7,"legendY":7.3}}}}
]},
{"width":290,"height":290,"view":{"stroke":null},"encoding":{"x":{"field":"x","type":"quantitative","scale":{"domain":[31,901],"nice":false,"zero":false},"axis":null},"y":{"field":"y","type":"quantitative","scale":{"domain":[885,15],"nice":false,"zero":false},"axis":null}},
"layer":[
{"data":{"name":"zones"},"mark":{"type":"rect"},"encoding":{"x2":{"field":"x2"},"y2":{"field":"y2"},"fill":{"field":"z","type":"nominal","legend":null,"scale":{"domain":["Sun","Base","Deposit","Wall","Wash","Sand","SandSample","Sample"],"range":["#ffffb0","#cfe2e0","#6fb378","#333333","#76b8dc","#cda76e","#ffbf80","#ffbea4"]}}}},
{"data":{"name":"candPath"},"transform":[{"filter":"datum.p=='b'"},{"window":[{"op":"row_number","as":"i"}]}],"mark":{"type":"line","color":"#008000","strokeWidth":3.5,"strokeDash":[3.5,6.2]},"encoding":{"detail":{"field":"id"},"order":{"field":"i"}}},
{"data":{"name":"chosenPath"},"transform":[{"filter":"datum.p=='b'"},{"window":[{"op":"row_number","as":"i"}]}],"mark":{"type":"line","color":"#dc143c","strokeWidth":4},"encoding":{"detail":{"field":"id"},"order":{"field":"i"}}},
{"data":{"name":"frame"},"mark":{"type":"rect","fill":null,"stroke":"#000","strokeWidth":1.3},"encoding":{"x2":{"field":"x2"},"y2":{"field":"y2"}}}
]},
{"width":290,"height":290,"view":{"stroke":null},"encoding":{"x":{"field":"x","type":"quantitative","scale":{"domain":[31,901],"nice":false,"zero":false},"axis":null},"y":{"field":"y","type":"quantitative","scale":{"domain":[885,15],"nice":false,"zero":false},"axis":null}},
"layer":[
{"data":{"name":"zones"},"mark":{"type":"rect"},"encoding":{"x2":{"field":"x2"},"y2":{"field":"y2"},"fill":{"field":"z","type":"nominal","legend":null,"scale":{"domain":["Sun","Base","Deposit","Wall","Wash","Sand","SandSample","Sample"],"range":["#ffffb0","#cfe2e0","#6fb378","#333333","#76b8dc","#cda76e","#ffbf80","#ffbea4"]}}}},
{"data":{"name":"candPath"},"transform":[{"filter":"datum.p=='c'"},{"window":[{"op":"row_number","as":"i"}]}],"mark":{"type":"line","color":"#008000","strokeWidth":3.5,"strokeDash":[3.5,6.2]},"encoding":{"detail":{"field":"id"},"order":{"field":"i"}}},
{"data":{"name":"chosenPath"},"transform":[{"filter":"datum.p=='c'"},{"window":[{"op":"row_number","as":"i"}]}],"mark":{"type":"line","color":"#dc143c","strokeWidth":4},"encoding":{"detail":{"field":"id"},"order":{"field":"i"}}},
{"data":{"name":"frame"},"mark":{"type":"rect","fill":null,"stroke":"#000","strokeWidth":1.3},"encoding":{"x2":{"field":"x2"},"y2":{"field":"y2"}}}
]},
{"width":290,"height":290,"view":{"stroke":null},"encoding":{"x":{"field":"x","type":"quantitative","scale":{"domain":[41,903],"nice":false,"zero":false},"axis":null},"y":{"field":"y","type":"quantitative","scale":{"domain":[878,15],"nice":false,"zero":false},"axis":null}},
"layer":[
{"data":{"name":"zones"},"mark":{"type":"rect"},"encoding":{"x2":{"field":"x2"},"y2":{"field":"y2"},"fill":{"field":"z","type":"nominal","legend":null,"scale":{"domain":["Sun","Base","Deposit","Wall","Wash","Sand","SandSample","Sample"],"range":["#ffffb0","#cfe2e0","#6fb378","#333333","#76b8dc","#cda76e","#ffbf80","#ffbea4"]}}}},
{"data":{"name":"candPath"},"transform":[{"filter":"datum.p=='d'"},{"window":[{"op":"row_number","as":"i"}]}],"mark":{"type":"line","color":"#008000","strokeWidth":3.5,"strokeDash":[3.5,6.2]},"encoding":{"detail":{"field":"id"},"order":{"field":"i"}}},
{"data":{"name":"chosenPath"},"transform":[{"filter":"datum.p=='d'"},{"window":[{"op":"row_number","as":"i"}]}],"mark":{"type":"line","color":"#dc143c","strokeWidth":4},"encoding":{"detail":{"field":"id"},"order":{"field":"i"}}},
{"data":{"name":"frame"},"mark":{"type":"rect","fill":null,"stroke":"#000","strokeWidth":1.3},"encoding":{"x2":{"field":"x2"},"y2":{"field":"y2"}}}
]},
{"width":290,"height":290,"resolve":{"scale":{"stroke":"independent","shape":"independent","fill":"independent","strokeDash":"independent"}},"title":{"text":"(a) Instance 3","orient":"bottom","offset":12},"encoding":{"x":{"field":"x","type":"quantitative","title":"Time (𝑚)","scale":{"domain":[0,124.1],"nice":false,"zero":false},"axis":{"values":[0,25,50,75,100],"titleX":128.5}},"y":{"field":"y","type":"quantitative","title":"Radiation (𝜇𝐺𝑦)","scale":{"domain":[0,55],"nice":false,"zero":false},"axis":{"values":[0,10,20,30,40,50],"titlePadding":7,"titleY":139}}},
"layer":[
{"data":{"name":"prior"},"transform":[{"filter":"datum.p=='a'"}],"mark":{"type":"point","clip":true,"filled":true,"strokeWidth":0,"shape":"M0,-1A1,1 0 1 1 0,1A1,1 0 1 1 0,-1Z","fill":{"gradient":"radial","x1":0.5,"y1":0.5,"r1":0,"x2":0.5,"y2":0.5,"r2":0.5,"stops":[{"offset":0,"color":"rgba(30,60,160,0.85)"},{"offset":0.12,"color":"rgba(40,70,165,0.68)"},{"offset":0.3,"color":"rgba(60,90,175,0.45)"},{"offset":0.55,"color":"rgba(80,110,190,0.25)"},{"offset":0.8,"color":"rgba(100,130,200,0.08)"},{"offset":1,"color":"rgba(100,130,200,0)"}]}},"encoding":{"size":{"field":"r","type":"quantitative","legend":null,"scale":{"type":"pow","exponent":2,"domain":[0,30],"range":[0,99900]}},"opacity":{"field":"w","type":"quantitative","legend":null,"scale":null}}},
{"data":{"name":"ellipses"},"transform":[{"filter":"datum.p=='a'"}],"mark":{"type":"point","clip":true,"filled":false,"opacity":0.72,"strokeWidth":3.4},"encoding":{"stroke":{"field":"k","type":"nominal","legend":null,"scale":{"domain":["Candidate","Chosen","True"],"range":["#2e8b57","#b22222","#ffa51f"]}},"size":{"field":"r","type":"quantitative","legend":null,"scale":{"type":"pow","exponent":2,"domain":[0,30],"range":[0,99900]}},"angle":{"field":"ang","type":"quantitative","scale":null},"shape":{"field":"a","type":"nominal","legend":null,"scale":{"domain":[0.13,0.2,0.22,0.42,0.45,0.55,0.62,0.65,0.7,0.75,0.8,0.85],"range":["M0,-1A.13,1 0 1 1 0,1A.13,1 0 1 1 0,-1Z","M0,-1A.2,1 0 1 1 0,1A.2,1 0 1 1 0,-1Z","M0,-1A.22,1 0 1 1 0,1A.22,1 0 1 1 0,-1Z","M0,-1A.42,1 0 1 1 0,1A.42,1 0 1 1 0,-1Z","M0,-1A.45,1 0 1 1 0,1A.45,1 0 1 1 0,-1Z","M0,-1A.55,1 0 1 1 0,1A.55,1 0 1 1 0,-1Z","M0,-1A.62,1 0 1 1 0,1A.62,1 0 1 1 0,-1Z","M0,-1A.65,1 0 1 1 0,1A.65,1 0 1 1 0,-1Z","M0,-1A.7,1 0 1 1 0,1A.7,1 0 1 1 0,-1Z","M0,-1A.75,1 0 1 1 0,1A.75,1 0 1 1 0,-1Z","M0,-1A.8,1 0 1 1 0,1A.8,1 0 1 1 0,-1Z","M0,-1A.85,1 0 1 1 0,1A.85,1 0 1 1 0,-1Z"]}}}},
{"data":{"name":"lcb"},"transform":[{"filter":"datum.p=='a'"}],"mark":{"type":"line","clip":true,"strokeWidth":1.8,"strokeDash":[4,2.5]},"encoding":{"detail":{"field":"id"},"color":{"field":"k","type":"nominal","legend":null,"scale":{"domain":["c","m"],"range":["#0a4f28","#5c0a14"]}}}},
{"data":{"name":"lcb"},"transform":[{"filter":"datum.p=='a' && datum.s==1"}],"mark":{"type":"point","clip":true,"filled":true,"size":28,"color":"#0a4f28","opacity":1}},
{"data":{"name":"trueMean"},"transform":[{"filter":"datum.p=='a'"}],"mark":{"type":"point","filled":true,"size":10,"color":"#ff7f0e","opacity":1}},
{"data":{"name":"pr"},"transform":[{"filter":"datum.p=='a'"}],"mark":{"type":"point","filled":true,"size":32,"color":"#1a3fa8","opacity":1}},
{"data":{"name":"link"},"transform":[{"filter":"datum.p=='a'"}],"mark":{"type":"line","color":"#ff0000","strokeWidth":3,"strokeDash":[3,6.5]},"encoding":{}},
{"data":{"name":"chosenMean"},"transform":[{"filter":"datum.p=='a'"}],"mark":{"type":"point","filled":true,"size":14,"color":"#ff0000","opacity":1}},
{"data":{"name":"plotLegend"},"mark":{"type":"point","filled":true,"opacity":0,"size":289,"strokeWidth":3},"encoding":{
"shape":{"field":"name","type":"nominal","scale":{"domain":["Candidate","LCB","Chosen","True","pₚᵣ"],"range":["M-1.76,0A1.76,.61 0 1 1 1.76,0A1.76,.61 0 1 1 -1.76,0Z","M-1.76,0H1.76","M-1.76,0A1.76,.61 0 1 1 1.76,0A1.76,.61 0 1 1 -1.76,0Z","M-1.76,0A1.76,.61 0 1 1 1.76,0A1.76,.61 0 1 1 -1.76,0Z","M-.49,0A.49,.49 0 1 1 .49,0A.49,.49 0 1 1 -.49,0Z"]},"legend":{"title":null,"orient":"none","legendX":154.7,"legendY":7.3,"encode":{"labels":{"update":{"fontStyle":{"signal":"datum.label=='pₚᵣ'?'italic':'normal'"}}}}}},
"fill":{"field":"name","type":"nominal","scale":{"domain":["Candidate","LCB","Chosen","True","pₚᵣ"],"range":["transparent","transparent","transparent","transparent","#1a3fa8"]},"legend":{"title":null,"orient":"none","legendX":154.7,"legendY":7.3}},
"stroke":{"field":"name","type":"nominal","scale":{"domain":["Candidate","LCB","Chosen","True","pₚᵣ"],"range":["#5aa977","#0a4f28","#c8585a","#ffb84d","transparent"]},"legend":{"title":null,"orient":"none","legendX":154.7,"legendY":7.3}},
"strokeDash":{"field":"name","type":"nominal","scale":{"domain":["Candidate","LCB","Chosen","True","pₚᵣ"],"range":[[1,0],[5,3],[1,0],[1,0],[1,0]]},"legend":{"title":null,"orient":"none","legendX":154.7,"legendY":7.3}}}}
]},
{"width":290,"height":290,"title":{"text":"(b) Instance 25","orient":"bottom","offset":12},"encoding":{"x":{"field":"x","type":"quantitative","title":"Time (𝑚)","scale":{"domain":[0,124.1],"nice":false,"zero":false},"axis":{"values":[0,25,50,75,100],"titleX":128.5}},"y":{"field":"y","type":"quantitative","title":null,"scale":{"domain":[0,55],"nice":false,"zero":false},"axis":{"values":[0,10,20,30,40,50]}}},
"layer":[
{"data":{"name":"prior"},"transform":[{"filter":"datum.p=='b'"}],"mark":{"type":"point","clip":true,"filled":true,"strokeWidth":0,"shape":"M0,-1A1,1 0 1 1 0,1A1,1 0 1 1 0,-1Z","fill":{"gradient":"radial","x1":0.5,"y1":0.5,"r1":0,"x2":0.5,"y2":0.5,"r2":0.5,"stops":[{"offset":0,"color":"rgba(30,60,160,0.85)"},{"offset":0.12,"color":"rgba(40,70,165,0.68)"},{"offset":0.3,"color":"rgba(60,90,175,0.45)"},{"offset":0.55,"color":"rgba(80,110,190,0.25)"},{"offset":0.8,"color":"rgba(100,130,200,0.08)"},{"offset":1,"color":"rgba(100,130,200,0)"}]}},"encoding":{"size":{"field":"r","type":"quantitative","legend":null,"scale":{"type":"pow","exponent":2,"domain":[0,30],"range":[0,99900]}},"opacity":{"field":"w","type":"quantitative","legend":null,"scale":null}}},
{"data":{"name":"ellipses"},"transform":[{"filter":"datum.p=='b'"}],"mark":{"type":"point","clip":true,"filled":false,"opacity":0.72,"strokeWidth":3.4},"encoding":{"stroke":{"field":"k","type":"nominal","legend":null,"scale":{"domain":["Candidate","Chosen","True"],"range":["#2e8b57","#b22222","#ffa51f"]}},"size":{"field":"r","type":"quantitative","legend":null,"scale":{"type":"pow","exponent":2,"domain":[0,30],"range":[0,99900]}},"angle":{"field":"ang","type":"quantitative","scale":null},"shape":{"field":"a","type":"nominal","legend":null,"scale":{"domain":[0.13,0.2,0.22,0.42,0.45,0.55,0.62,0.65,0.7,0.75,0.8,0.85],"range":["M0,-1A.13,1 0 1 1 0,1A.13,1 0 1 1 0,-1Z","M0,-1A.2,1 0 1 1 0,1A.2,1 0 1 1 0,-1Z","M0,-1A.22,1 0 1 1 0,1A.22,1 0 1 1 0,-1Z","M0,-1A.42,1 0 1 1 0,1A.42,1 0 1 1 0,-1Z","M0,-1A.45,1 0 1 1 0,1A.45,1 0 1 1 0,-1Z","M0,-1A.55,1 0 1 1 0,1A.55,1 0 1 1 0,-1Z","M0,-1A.62,1 0 1 1 0,1A.62,1 0 1 1 0,-1Z","M0,-1A.65,1 0 1 1 0,1A.65,1 0 1 1 0,-1Z","M0,-1A.7,1 0 1 1 0,1A.7,1 0 1 1 0,-1Z","M0,-1A.75,1 0 1 1 0,1A.75,1 0 1 1 0,-1Z","M0,-1A.8,1 0 1 1 0,1A.8,1 0 1 1 0,-1Z","M0,-1A.85,1 0 1 1 0,1A.85,1 0 1 1 0,-1Z"]}}}},
{"data":{"name":"lcb"},"transform":[{"filter":"datum.p=='b'"}],"mark":{"type":"line","clip":true,"strokeWidth":1.8,"strokeDash":[4,2.5]},"encoding":{"detail":{"field":"id"},"color":{"field":"k","type":"nominal","legend":null,"scale":{"domain":["c","m"],"range":["#0a4f28","#5c0a14"]}}}},
{"data":{"name":"lcb"},"transform":[{"filter":"datum.p=='b' && datum.s==1"}],"mark":{"type":"point","clip":true,"filled":true,"size":28,"color":"#0a4f28","opacity":1}},
{"data":{"name":"trueMean"},"transform":[{"filter":"datum.p=='b'"}],"mark":{"type":"point","filled":true,"size":10,"color":"#ff7f0e","opacity":1}},
{"data":{"name":"pr"},"transform":[{"filter":"datum.p=='b'"}],"mark":{"type":"point","filled":true,"size":32,"color":"#1a3fa8","opacity":1}},
{"data":{"name":"link"},"transform":[{"filter":"datum.p=='b'"}],"mark":{"type":"line","color":"#ff0000","strokeWidth":3,"strokeDash":[3,6.5]},"encoding":{}},
{"data":{"name":"chosenMean"},"transform":[{"filter":"datum.p=='b'"}],"mark":{"type":"point","filled":true,"size":14,"color":"#ff0000","opacity":1}}
]},
{"width":290,"height":290,"title":{"text":"(c) Instance 35","orient":"bottom","offset":12},"encoding":{"x":{"field":"x","type":"quantitative","title":"Time (𝑚)","scale":{"domain":[0,124.1],"nice":false,"zero":false},"axis":{"values":[0,25,50,75,100],"titleX":128.5}},"y":{"field":"y","type":"quantitative","title":null,"scale":{"domain":[0,55],"nice":false,"zero":false},"axis":{"values":[0,10,20,30,40,50]}}},
"layer":[
{"data":{"name":"prior"},"transform":[{"filter":"datum.p=='c'"}],"mark":{"type":"point","clip":true,"filled":true,"strokeWidth":0,"shape":"M0,-1A1,1 0 1 1 0,1A1,1 0 1 1 0,-1Z","fill":{"gradient":"radial","x1":0.5,"y1":0.5,"r1":0,"x2":0.5,"y2":0.5,"r2":0.5,"stops":[{"offset":0,"color":"rgba(30,60,160,0.85)"},{"offset":0.12,"color":"rgba(40,70,165,0.68)"},{"offset":0.3,"color":"rgba(60,90,175,0.45)"},{"offset":0.55,"color":"rgba(80,110,190,0.25)"},{"offset":0.8,"color":"rgba(100,130,200,0.08)"},{"offset":1,"color":"rgba(100,130,200,0)"}]}},"encoding":{"size":{"field":"r","type":"quantitative","legend":null,"scale":{"type":"pow","exponent":2,"domain":[0,30],"range":[0,99900]}},"opacity":{"field":"w","type":"quantitative","legend":null,"scale":null}}},
{"data":{"name":"ellipses"},"transform":[{"filter":"datum.p=='c'"}],"mark":{"type":"point","clip":true,"filled":false,"opacity":0.72,"strokeWidth":3.4},"encoding":{"stroke":{"field":"k","type":"nominal","legend":null,"scale":{"domain":["Candidate","Chosen","True"],"range":["#2e8b57","#b22222","#ffa51f"]}},"size":{"field":"r","type":"quantitative","legend":null,"scale":{"type":"pow","exponent":2,"domain":[0,30],"range":[0,99900]}},"angle":{"field":"ang","type":"quantitative","scale":null},"shape":{"field":"a","type":"nominal","legend":null,"scale":{"domain":[0.13,0.2,0.22,0.42,0.45,0.55,0.62,0.65,0.7,0.75,0.8,0.85],"range":["M0,-1A.13,1 0 1 1 0,1A.13,1 0 1 1 0,-1Z","M0,-1A.2,1 0 1 1 0,1A.2,1 0 1 1 0,-1Z","M0,-1A.22,1 0 1 1 0,1A.22,1 0 1 1 0,-1Z","M0,-1A.42,1 0 1 1 0,1A.42,1 0 1 1 0,-1Z","M0,-1A.45,1 0 1 1 0,1A.45,1 0 1 1 0,-1Z","M0,-1A.55,1 0 1 1 0,1A.55,1 0 1 1 0,-1Z","M0,-1A.62,1 0 1 1 0,1A.62,1 0 1 1 0,-1Z","M0,-1A.65,1 0 1 1 0,1A.65,1 0 1 1 0,-1Z","M0,-1A.7,1 0 1 1 0,1A.7,1 0 1 1 0,-1Z","M0,-1A.75,1 0 1 1 0,1A.75,1 0 1 1 0,-1Z","M0,-1A.8,1 0 1 1 0,1A.8,1 0 1 1 0,-1Z","M0,-1A.85,1 0 1 1 0,1A.85,1 0 1 1 0,-1Z"]}}}},
{"data":{"name":"lcb"},"transform":[{"filter":"datum.p=='c'"}],"mark":{"type":"line","clip":true,"strokeWidth":1.8,"strokeDash":[4,2.5]},"encoding":{"detail":{"field":"id"},"color":{"field":"k","type":"nominal","legend":null,"scale":{"domain":["c","m"],"range":["#0a4f28","#5c0a14"]}}}},
{"data":{"name":"lcb"},"transform":[{"filter":"datum.p=='c' && datum.s==1"}],"mark":{"type":"point","clip":true,"filled":true,"size":28,"color":"#0a4f28","opacity":1}},
{"data":{"name":"trueMean"},"transform":[{"filter":"datum.p=='c'"}],"mark":{"type":"point","filled":true,"size":10,"color":"#ff7f0e","opacity":1}},
{"data":{"name":"pr"},"transform":[{"filter":"datum.p=='c'"}],"mark":{"type":"point","filled":true,"size":32,"color":"#1a3fa8","opacity":1}},
{"data":{"name":"link"},"transform":[{"filter":"datum.p=='c'"}],"mark":{"type":"line","color":"#ff0000","strokeWidth":3,"strokeDash":[3,6.5]},"encoding":{}},
{"data":{"name":"chosenMean"},"transform":[{"filter":"datum.p=='c'"}],"mark":{"type":"point","filled":true,"size":14,"color":"#ff0000","opacity":1}}
]},
{"width":290,"height":290,"title":{"text":"(d) Instance 150","orient":"bottom","offset":12},"encoding":{"x":{"field":"x","type":"quantitative","title":"Time (𝑚)","scale":{"domain":[0,124.1],"nice":false,"zero":false},"axis":{"values":[0,25,50,75,100],"titleX":128.5}},"y":{"field":"y","type":"quantitative","title":null,"scale":{"domain":[0,55],"nice":false,"zero":false},"axis":{"values":[0,10,20,30,40,50]}}},
"layer":[
{"data":{"name":"prior"},"transform":[{"filter":"datum.p=='d'"}],"mark":{"type":"point","clip":true,"filled":true,"strokeWidth":0,"shape":"M0,-1A1,1 0 1 1 0,1A1,1 0 1 1 0,-1Z","fill":{"gradient":"radial","x1":0.5,"y1":0.5,"r1":0,"x2":0.5,"y2":0.5,"r2":0.5,"stops":[{"offset":0,"color":"rgba(30,60,160,0.85)"},{"offset":0.12,"color":"rgba(40,70,165,0.68)"},{"offset":0.3,"color":"rgba(60,90,175,0.45)"},{"offset":0.55,"color":"rgba(80,110,190,0.25)"},{"offset":0.8,"color":"rgba(100,130,200,0.08)"},{"offset":1,"color":"rgba(100,130,200,0)"}]}},"encoding":{"size":{"field":"r","type":"quantitative","legend":null,"scale":{"type":"pow","exponent":2,"domain":[0,30],"range":[0,99900]}},"opacity":{"field":"w","type":"quantitative","legend":null,"scale":null}}},
{"data":{"name":"ellipses"},"transform":[{"filter":"datum.p=='d'"}],"mark":{"type":"point","clip":true,"filled":false,"opacity":0.72,"strokeWidth":3.4},"encoding":{"stroke":{"field":"k","type":"nominal","legend":null,"scale":{"domain":["Candidate","Chosen","True"],"range":["#2e8b57","#b22222","#ffa51f"]}},"size":{"field":"r","type":"quantitative","legend":null,"scale":{"type":"pow","exponent":2,"domain":[0,30],"range":[0,99900]}},"angle":{"field":"ang","type":"quantitative","scale":null},"shape":{"field":"a","type":"nominal","legend":null,"scale":{"domain":[0.13,0.2,0.22,0.42,0.45,0.55,0.62,0.65,0.7,0.75,0.8,0.85],"range":["M0,-1A.13,1 0 1 1 0,1A.13,1 0 1 1 0,-1Z","M0,-1A.2,1 0 1 1 0,1A.2,1 0 1 1 0,-1Z","M0,-1A.22,1 0 1 1 0,1A.22,1 0 1 1 0,-1Z","M0,-1A.42,1 0 1 1 0,1A.42,1 0 1 1 0,-1Z","M0,-1A.45,1 0 1 1 0,1A.45,1 0 1 1 0,-1Z","M0,-1A.55,1 0 1 1 0,1A.55,1 0 1 1 0,-1Z","M0,-1A.62,1 0 1 1 0,1A.62,1 0 1 1 0,-1Z","M0,-1A.65,1 0 1 1 0,1A.65,1 0 1 1 0,-1Z","M0,-1A.7,1 0 1 1 0,1A.7,1 0 1 1 0,-1Z","M0,-1A.75,1 0 1 1 0,1A.75,1 0 1 1 0,-1Z","M0,-1A.8,1 0 1 1 0,1A.8,1 0 1 1 0,-1Z","M0,-1A.85,1 0 1 1 0,1A.85,1 0 1 1 0,-1Z"]}}}},
{"data":{"name":"lcb"},"transform":[{"filter":"datum.p=='d'"}],"mark":{"type":"line","clip":true,"strokeWidth":1.8,"strokeDash":[4,2.5]},"encoding":{"detail":{"field":"id"},"color":{"field":"k","type":"nominal","legend":null,"scale":{"domain":["c","m"],"range":["#0a4f28","#5c0a14"]}}}},
{"data":{"name":"lcb"},"transform":[{"filter":"datum.p=='d' && datum.s==1"}],"mark":{"type":"point","clip":true,"filled":true,"size":28,"color":"#0a4f28","opacity":1}},
{"data":{"name":"trueMean"},"transform":[{"filter":"datum.p=='d'"}],"mark":{"type":"point","filled":true,"size":10,"color":"#ff7f0e","opacity":1}},
{"data":{"name":"pr"},"transform":[{"filter":"datum.p=='d'"}],"mark":{"type":"point","filled":true,"size":32,"color":"#1a3fa8","opacity":1}},
{"data":{"name":"chosenMean"},"transform":[{"filter":"datum.p=='d'"}],"mark":{"type":"point","filled":true,"size":14,"color":"#ff0000","opacity":1}}
]}
]}
